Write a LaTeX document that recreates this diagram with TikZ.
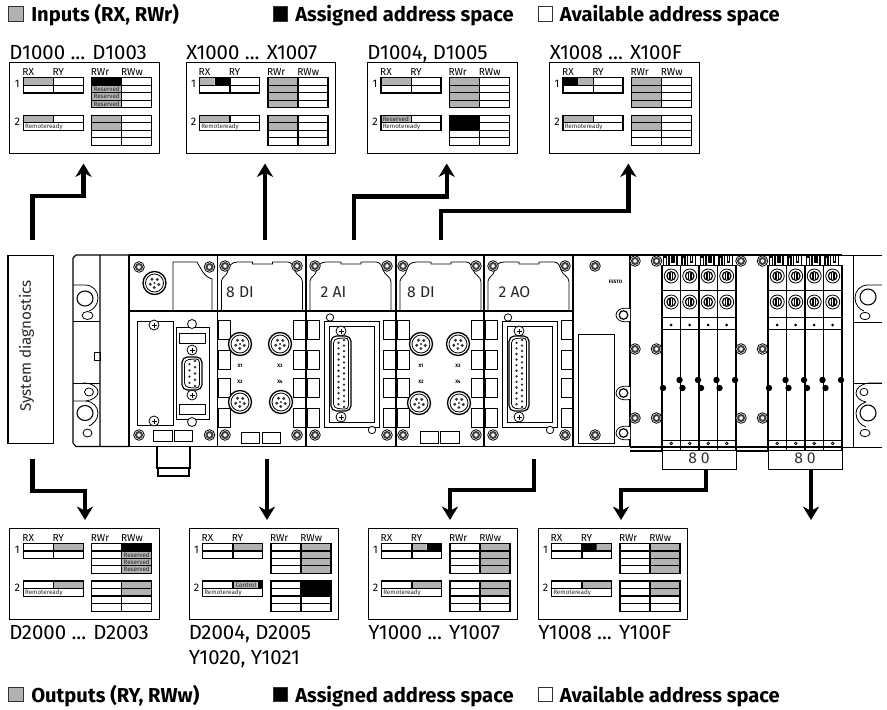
\documentclass[tikz,border=0pt]{standalone}
\usepackage{fontspec}
\setmainfont{Fira Sans}
\usepackage{tikz}
\usetikzlibrary{
  arrows.meta,
  positioning,
  calc,
}

\definecolor{usedgray}{HTML}{B2B2B2}

%% address map panel: name, x, y, fills
\newcommand{\addrpanel}[4]{
  \node[panelbox,anchor=north west] (#1) at (#2,#3) {};
  \begin{scope}[shift={(#2,#3)}]
    #4
    \foreach \rowy in {15.7,53.3}{
      \draw[gridline] (14,\rowy) rectangle (74,\rowy+15.3);
      \draw[gridline] (14,\rowy+7.6) -- (74,\rowy+7.6);
      \draw[gridline] (82.5,\rowy) rectangle (142.5,\rowy+30.2);
      \draw[gridline] (112.5,\rowy) -- (112.5,\rowy+30.2);
      \foreach \rowd in {7.6,15,22.5}{
        \draw[gridline] (82.5,\rowy+\rowd) -- (142.5,\rowy+\rowd);
      }
    }
    \draw[gridline] (44.5,15.7) -- (44.5,31);
    \draw[gridline] (44.5,53.3) -- (44.5,60.9);
    \foreach \lab/\lx in {RX/19,RY/49,RWr/90.7,RWw/122.7}{
      \node[collabel] (#1-\lab) at (\lx,10.5) {\lab};
    }
    \node[rowlabel] (#1-one) at (8,22) {1};
    \node[rowlabel] (#1-two) at (8,60) {2};
  \end{scope}
}
\newcommand{\celltag}[4]{\node[celltext] (#1) at (#2,#3) {#4};}
%% fixing screw
\newcommand{\screwhead}[2]{
  \draw[devline,fill=white] (#1,#2) circle (5.3);
  \draw[line width=1.5pt,black!75] (#1,#2) circle (3);
}
%% round sensor socket
\newcommand{\sensorport}[2]{
  \draw[devline,fill=white,line width=1pt] (#1,#2) circle (11.5);
  \draw[devline] (#1,#2) circle (9);
  \foreach \ang in {0,72,144,216,288}{
    \fill[black!80] (#1,#2) ++(\ang+20:4.5) circle (1.6);
  }
  \fill[black!80] (#1,#2) circle (1.2);
}
%% cross head screw
\newcommand{\crossscrew}[2]{
  \draw[devline,fill=white] (#1,#2) circle (5);
  \draw[devline] (#1-2.5,#2) -- (#1+2.5,#2) (#1,#2-2.5) -- (#1,#2+2.5);
}
%% sub-d socket: x, top, bottom, pins
\newcommand{\subdport}[4]{
  \draw[devline,line width=.9pt,rounded corners=4,fill=white] (#1-10,#2) rectangle (#1+10,#3);
  \draw[devline,rounded corners=3] (#1-7.5,#2+3) -- (#1+7.5,#2+1.5) -- (#1+7.5,#3-1.5) -- (#1-7.5,#3-3) -- cycle;
  \foreach \pin in {1,...,#4}{
    \fill[black!80] ({#1+3},{#2+4+(\pin-1)*(#3-#2-8)/(#4-1)}) circle (1.3);
    \ifnum\pin<#4
      \fill[black!80] ({#1-2.5},{#2+4+(\pin-.5)*(#3-#2-8)/(#4-1)}) circle (1.3);
    \fi
  }
}
%% status lamps on the module side
\newcommand{\lamprow}[1]{
  \foreach \ty in {320,350,378,408}{
    \draw[devline] (#1,\ty) rectangle (#1+12,\ty+19);
  }
}
%% module cover with its text
\newcommand{\modulecover}[1]{
  \draw[devline] (#1+4,310) -- (#1+4,281)
    .. controls (#1+5,276) and (#1+9,276) .. (#1+10,272)
    .. controls (#1+11,266) and (#1+14,262) .. (#1+20,262)
    -- (#1+35,262) -- (#1+35,264) -- (#1+55,264) -- (#1+55,262) -- (#1+70,262)
    .. controls (#1+74,262) and (#1+76,266) .. (#1+77,270)
    .. controls (#1+79,276) and (#1+85,276) .. (#1+85,282) -- (#1+85,310);
}
%% analogue module face
\newcommand{\analogface}[1]{
  \draw[devline,line width=.7pt] (#1+18.5,321) rectangle (#1+73,427);
  \draw[devline,line width=.7pt] (#1+23,326) rectangle (#1+68,422);
  \draw[devline,fill=white] (#1+24,317.5) circle (3.7);
  \draw[devline,fill=white] (#1+66,430) circle (3.7);
  \crossscrew{#1+35}{331}
  \crossscrew{#1+35}{417}
  \subdport{#1+35}{336}{411}{13}
  \lamprow{#1+1}
  \lamprow{#1+77}
}
%% valve bank: left edge
\newcommand{\valvebank}[1]{
  \foreach \vi in {0,1,2,3}{
    \pgfmathsetmacro{\vx}{#1+\vi*18.5}
    \draw[line width=1pt] (\vx+1.5,265) -- (\vx+1.5,257) -- (\vx+4.5,257) -- (\vx+4.5,265)
      (\vx+7,265) -- (\vx+7,255) -- (\vx+10,255) -- (\vx+10,262) -- (\vx+12,262) -- (\vx+12,255) -- (\vx+15,255) -- (\vx+15,265);
    \foreach \vy in {276,302}{
      \draw[devline] (\vx+9.2,\vy) circle (7);
      \draw[line width=.9pt] (\vx+9.2,\vy) circle (4.3);
      \draw[line width=1pt] (\vx+8,\vy-3) -- (\vx+8,\vy+3) (\vx+10.5,\vy-3) -- (\vx+10.5,\vy+3);
    }
    \fill (\vx+9.2,325) circle (1.5);
    \draw[devline] (\vx+9.2,443.5) circle (1.3);
  }
  \draw[devline] (#1,290) -- (#1+74,290) (#1,317) -- (#1+74,317) (#1,329) -- (#1+74,329);
  \draw[devline] (#1,440) -- (#1+74,440) (#1,265) -- (#1+74,265);
  \foreach \vi in {0,1,2,3,4}{
    \draw[line width=1pt] ({#1+\vi*18.5},265) -- ({#1+\vi*18.5},450);
  }
  \fill ({#1+1},388) circle (3.2);
  \foreach \vi in {1,2,3,4}{
    \fill ({#1+\vi*18.5-1},380) circle (3.2);
  }
  \foreach \vi in {1,2,3}{
    \fill ({#1+\vi*18.5+2},388) circle (3.2);
  }
  \foreach \screwy in {261,349,418}{
    \screwhead{#1-27}{\screwy}
    \screwhead{#1-5.5}{\screwy}
  }
}

\begin{document}
\begin{tikzpicture}[
  x=0.75pt,y=-0.75pt,
  panelbox/.style={draw=black,fill=white,line width=.75pt,inner sep=0pt,minimum width=112.3pt,minimum height=68.6pt},
  gridline/.style={black,line width=.8pt},
  usedcell/.style={fill=usedgray},
  fullcell/.style={fill=black},
  collabel/.style={font=\fontsize{7.6}{8}\selectfont,inner sep=0pt},
  rowlabel/.style={font=\fontsize{8.2}{9}\selectfont,inner sep=0pt},
  celltext/.style={font=\fontsize{4.7}{5}\selectfont,inner sep=0pt,anchor=west,text=black!85},
  addrtext/.style={font=\fontsize{15.3}{16}\selectfont,inner sep=0pt,anchor=base west},
  headtext/.style={font=\fontsize{15.1}{16}\selectfont\bfseries,inner sep=0pt,anchor=base west},
  legendbox/.style={draw=black!80,line width=.6pt,inner sep=0pt,minimum size=11pt,anchor=north west},
  devline/.style={black,line width=.6pt},
  covertext/.style={font=\fontsize{11.8}{12}\selectfont,inner sep=0pt,text=black!85},
  porttext/.style={font=\fontsize{3.6}{4}\selectfont\bfseries,inner sep=0pt},
  diagbox/.style={draw=black,line width=.9pt,inner sep=0pt,minimum width=34pt,minimum height=141.5pt},
  countbox/.style={draw=black,fill=white,line width=.75pt,inner sep=0pt,minimum width=55.5pt,minimum height=14pt},
  heavyarrow/.style={-{Stealth[length=10pt,width=12pt,inset=3pt]},line width=3.3pt},
  lightarrow/.style={-{Stealth[length=10pt,width=12pt,inset=3pt]},line width=2.3pt},
]
\useasboundingbox (0,0) rectangle (887,709);

%% Legend top
\node[legendbox,fill=usedgray] (keyusedin) at (8,6) {};
\node[headtext] (inputs) at (31,22) {Inputs (RX, RWr)};
\node[legendbox,fill=black] (keyfullin) at (272.5,6) {};
\node[headtext] (fullin) at (295,22) {Assigned address space};
\node[legendbox,fill=white] (keyfreein) at (537.5,6) {};
\node[headtext] (freein) at (559.5,22) {Available address space};

%% Input panels
\node[addrtext] (d1000lab) at (9,60) {D1000 ... D1003};
\node[addrtext] (x1000lab) at (186,60) {X1000 ... X1007};
\node[addrtext] (d1004lab) at (367,60) {D1004, D1005};
\node[addrtext] (x1008lab) at (549.5,60) {X1008 ... X100F};

\addrpanel{dtop}{9.3}{62}{
  \fill[usedcell] (14,15.7) rectangle (44.5,23.3) (14,53.3) rectangle (44.5,60.9);
  \fill[fullcell] (82.5,15.7) rectangle (112.5,23.3);
  \fill[usedcell] (82.5,23.3) rectangle (112.5,45.9) (82.5,53.3) rectangle (112.5,68.8);
  \celltag{dtopa}{84}{27}{Reserved}
  \celltag{dtopb}{84}{34.5}{Reserved}
  \celltag{dtopc}{84}{41.8}{Reserved}
  \celltag{dtopr}{15.5}{64.8}{Remoteready}
}
\addrpanel{xtop}{185.5}{62}{
  \fill[usedcell] (14,15.7) rectangle (29,23.3) (14,53.3) rectangle (44.5,60.9);
  \fill[fullcell] (29,15.7) rectangle (44.5,23.3);
  \fill[usedcell] (82.5,15.7) rectangle (112.5,45.9) (82.5,53.3) rectangle (112.5,68.8);
  \celltag{xtopr}{15.5}{64.8}{Remoteready}
}
\addrpanel{dmid}{367}{62}{
  \fill[usedcell] (14,15.7) rectangle (44.5,23.3) (14,53.3) rectangle (44.5,60.9);
  \fill[usedcell] (82.5,15.7) rectangle (112.5,45.9);
  \fill[fullcell] (82.5,53.3) rectangle (112.5,68.8);
  \celltag{dmida}{15.5}{57.1}{Reserved}
  \celltag{dmidr}{15.5}{64.8}{Remoteready}
}
\addrpanel{xmid}{549}{62}{
  \fill[fullcell] (14,15.7) rectangle (29,23.3);
  \fill[usedcell] (29,15.7) rectangle (44.5,23.3) (14,53.3) rectangle (44.5,60.9);
  \fill[usedcell] (82.5,15.7) rectangle (112.5,45.9) (82.5,53.3) rectangle (112.5,68.8);
  \celltag{xmidr}{15.5}{64.8}{Remoteready}
}

%% Diagnostics box
\node[diagbox] (sysdiag) at (30.7,349.5) {};
\node[rotate=90,font=\fontsize{11.4}{12}\selectfont,inner sep=0pt,text=black!85] (sysdiagtext) at (26.5,346) {System diagnostics};

%% End plates
\draw[devline,line width=.8pt] (76,255) -- (129,255) (73,258) -- (73,443) -- (76,446.5) -- (129,446.5)
  (73,258) -- (76,255) (100,255) -- (100,446.5);
\draw[devline] (73,285) -- (85,285) .. controls (93,285) and (98,291) .. (98,298) .. controls (98,305) and (93,310) .. (89,311);
\draw[devline] (73,321) -- (100,321) (73,383) -- (100,383);
\draw[devline] (73,401) -- (85,401) .. controls (93,401) and (98,407) .. (98,413) .. controls (98,420) and (93,424) .. (89,426);
\draw[devline] (83,383) .. controls (92,383) and (98,387) .. (98,392) .. controls (98,397) and (92,400) .. (86,401);
\draw[devline,line width=.8pt] (85,298.5) ellipse (8 and 7.5) (85,413) ellipse (8 and 7.5);
\draw[devline] (87.5,315.5) ellipse (5.5 and 4) (89,392) ellipse (4.5 and 4) (87.5,433) ellipse (4.5 and 4);
\draw[devline] (94,360) rectangle (100,352);
\draw[devline] (842,255) -- (882,255) (842,447) -- (882,447) (853,255) -- (853,447)
  (853,322) -- (882,322) (853,383) -- (882,383);
\draw[devline] (882,285) -- (868,285) .. controls (860,285) and (855,291) .. (855,298) .. controls (855,305) and (860,310) .. (864,311);
\draw[devline] (882,383) -- (869,383) .. controls (861,384) and (856,388) .. (856,393) .. controls (856,398) and (861,401) .. (866,402);
\draw[devline] (866,402) .. controls (860,404) and (856,408) .. (856,413) .. controls (856,420) and (860,425) .. (866,427);
\draw[devline,line width=.8pt] (868,297) ellipse (8 and 8) (868,413) ellipse (8 and 8);
\draw[devline] (865,316) ellipse (5 and 3.7) (864,392) ellipse (4 and 3.7) (865,433) ellipse (5 and 3.7);

%% Module frames
\draw[devline,line width=.8pt] (129,255) -- (630,255) (129,446.5) -- (630,446.5);
\foreach \mx in {129,217.5,306,396,484,573,630}{
  \draw[devline,line width=.9pt] (\mx,255) -- (\mx,446.5);
}
\draw[devline,line width=.8pt] (129,311) -- (573,311);

%% Bus node
\screwhead{139}{267}
\screwhead{209.5}{267}
\screwhead{139}{435}
\screwhead{209.5}{435}
\sensorport{154.5}{283}
\draw[devline] (173,311) -- (173,262) -- (197,262) .. controls (201,268) and (203,276) .. (212,279) -- (212,311);
\draw[devline,line width=.7pt] (137,321) rectangle (173,425);
\crossscrew{154}{325}
\crossscrew{154}{421}
\draw[devline,line width=.7pt,fill=white] (176,327) rectangle (209,419);
\draw[devline,fill=white] (192,324) circle (4.5) (192,422) circle (4.5);
\draw[devline,fill=white] (179,333) rectangle (205,343) (179,404) rectangle (205,414);
\crossscrew{192}{350}
\crossscrew{192}{395}
\subdport{192}{357}{390}{5}
\draw[devline] (153.5,430) rectangle (172,441) (174.5,430) rectangle (192.5,441);
\draw[devline,line width=.8pt] (157,446.5) -- (157,468) -- (190,468) -- (190,446.5);
\draw[devline,line width=.8pt] (158,468) rectangle (189,476);

%% Digital modules
\foreach \mx in {217.5,396}{
  \modulecover{\mx}
  \lamprow{\mx+1}
  \lamprow{\mx+75.5}
}
\node[covertext] (cover1) at (240,292) {8 DI};
\node[covertext] (cover3) at (421,292) {8 DI};
\foreach \px/\py in {240/344,280/344,240/402,281/402,421/344,458/344,419/403,459/403}{
  \sensorport{\px}{\py}
}
\node[porttext] (x1a) at (240,365.5) {X1};
\node[porttext] (x3a) at (280,365.5) {X3};
\node[porttext] (x2a) at (240,381.5) {X2};
\node[porttext] (x4a) at (280,381.5) {X4};
\node[porttext] (x1b) at (421,365.5) {X1};
\node[porttext] (x3b) at (458,365.5) {X3};
\node[porttext] (x2b) at (421,381.5) {X2};
\node[porttext] (x4b) at (458,381.5) {X4};
\draw[devline] (241,432) rectangle (259,443) (262,432) rectangle (280,443);
\draw[devline] (420,431) rectangle (438,443) (440,431) rectangle (459,443);

%% Analogue modules
\foreach \mx in {306,484}{
  \modulecover{\mx}
  \analogface{\mx}
}
\node[covertext] (cover2) at (333.5,292) {2 AI};
\node[covertext] (cover4) at (514.5,292) {2 AO};
\foreach \sx in {225,297,315,387,403,476,493,565}{
  \screwhead{\sx}{266}
  \screwhead{\sx}{435}
}

%% Valve side
\draw[devline,line width=.7pt] (578,334) rectangle (614,443);
\screwhead{595}{266}
\screwhead{595}{435}
\node[font=\fontsize{3.6}{4}\selectfont\bfseries,inner sep=0pt] (logo) at (615.5,282) {FESTO};
\foreach \ly in {315,393,433}{
  \draw[devline,fill=white] (630,\ly-6.5) .. controls (620,\ly-8) and (616,\ly-4) .. (616,\ly) .. controls (616,\ly+4) and (620,\ly+8) .. (630,\ly+6.5);
  \draw[devline,line width=.9pt] (623.5,\ly) circle (4.3);
}
\draw[devline,line width=.8pt] (630,255) -- (842,255) (630,447) -- (842,447) (630,451) -- (662,451) (736,451) -- (768,451);
\valvebank{662}
\valvebank{768}
\node[countbox,anchor=north west] (count1) at (662,450) {};
\node[countbox,anchor=north west] (count2) at (768,450) {};
\node[covertext,text=black!80] (count1text) at (699,458.5) {8\hspace{3pt}0};
\node[covertext,text=black!80] (count2text) at (805,458.5) {8\hspace{3pt}0};

%% Arrows up
\coordinate (diagup) at (32.5,240);
\coordinate (dtopin) at (83.5,163.5);
\coordinate (xtopsrc) at (265,240);
\coordinate (xtopin) at (265,163.5);
\coordinate (dmidsrc) at (353.7,240);
\coordinate (dmidin) at (446.7,163.5);
\coordinate (xmidsrc) at (440.7,240);
\coordinate (xmidin) at (628.3,163.5);
\draw[heavyarrow] (diagup) -- ++(0,-44) -| (dtopin);
\draw[lightarrow] (xtopsrc) -- (xtopin);
\draw[heavyarrow] (dmidsrc) -- ++(0,-43.5) -| (dmidin);
\draw[heavyarrow] (xmidsrc) -- ++(0,-29) -| (xmidin);

%% Arrows down
\coordinate (diagdown) at (32.5,459);
\coordinate (dlowin) at (85,520);
\coordinate (dnextsrc) at (267,459);
\coordinate (dnextin) at (267,520);
\coordinate (ylowsrc) at (534,459);
\coordinate (ylowin) at (450,520);
\coordinate (ynextsrc) at (706,470);
\coordinate (ynextin) at (621,520);
\coordinate (ylastsrc) at (811,470);
\coordinate (ylastin) at (811,520);
\draw[heavyarrow] (diagdown) -- ++(0,32) -| (dlowin);
\draw[lightarrow] (dnextsrc) -- (dnextin);
\draw[heavyarrow] (ylowsrc) -- ++(0,31) -| (ylowin);
\draw[heavyarrow] (ynextsrc) -- ++(0,20) -| (ynextin);
\draw[lightarrow] (ylastsrc) -- (ylastin);

%% Output panels
\addrpanel{dlow}{9.3}{527.7}{
  \fill[usedcell] (44.5,15.7) rectangle (74,23.3) (44.5,53.3) rectangle (74,60.9);
  \fill[fullcell] (112.5,15.7) rectangle (142.5,23.3);
  \fill[usedcell] (112.5,23.3) rectangle (142.5,45.9) (112.5,53.3) rectangle (142.5,68.8);
  \celltag{dlowa}{114}{27}{Reserved}
  \celltag{dlowb}{114}{34.5}{Reserved}
  \celltag{dlowc}{114}{41.8}{Reserved}
  \celltag{dlowr}{15.5}{64.8}{Remoteready}
}
\addrpanel{dnext}{188.5}{527.7}{
  \fill[usedcell] (44.5,15.7) rectangle (74,23.3) (44.5,53.3) rectangle (69,60.9);
  \fill[fullcell] (69,53.3) rectangle (74,60.9);
  \fill[usedcell] (112.5,15.7) rectangle (142.5,45.9);
  \fill[fullcell] (112.5,53.3) rectangle (142.5,68.8);
  \celltag{dnextc}{47}{57.1}{Control}
  \celltag{dnextr}{15.5}{64.8}{Remoteready}
}
\addrpanel{ylow}{367.5}{527.7}{
  \fill[usedcell] (44.5,15.7) rectangle (59,23.3) (44.5,53.3) rectangle (74,60.9);
  \fill[fullcell] (59,15.7) rectangle (74,23.3);
  \fill[usedcell] (112.5,15.7) rectangle (142.5,45.9) (112.5,53.3) rectangle (142.5,68.8);
  \celltag{ylowr}{15.5}{64.8}{Remoteready}
}
\addrpanel{ynext}{537.5}{527.7}{
  \fill[fullcell] (44.5,15.7) rectangle (59,23.3);
  \fill[usedcell] (59,15.7) rectangle (74,23.3) (44.5,53.3) rectangle (74,60.9);
  \fill[usedcell] (112.5,15.7) rectangle (142.5,45.9) (112.5,53.3) rectangle (142.5,68.8);
  \celltag{ynextr}{15.5}{64.8}{Remoteready}
}
\node[addrtext] (d2000lab) at (9,639) {D2000 ... D2003};
\node[addrtext] (d2004lab) at (188.5,639) {D2004, D2005};
\node[addrtext] (y1020lab) at (188.5,664) {Y1020, Y1021};
\node[addrtext] (y1000lab) at (368,639) {Y1000 ... Y1007};
\node[addrtext] (y1008lab) at (538,639) {Y1008 ... Y100F};

%% Legend bottom
\node[legendbox,fill=usedgray] (keyusedout) at (8,686.5) {};
\node[headtext] (outputs) at (31,702) {Outputs (RY, RWw)};
\node[legendbox,fill=black] (keyfullout) at (272.5,686.5) {};
\node[headtext] (fullout) at (295,702) {Assigned address space};
\node[legendbox,fill=white] (keyfreeout) at (537.5,686.5) {};
\node[headtext] (freeout) at (559.5,702) {Available address space};

\end{tikzpicture}
\end{document}
